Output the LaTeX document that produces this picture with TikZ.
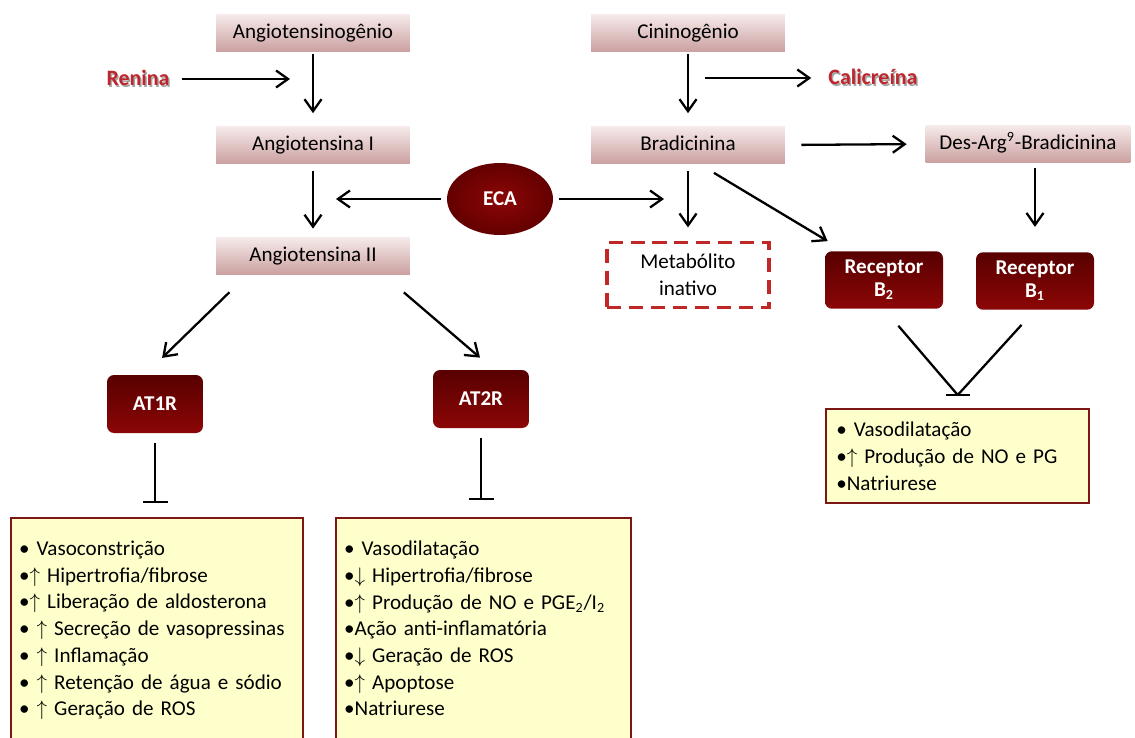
\documentclass[tikz,border=0pt]{standalone}
\usepackage{fontspec}
\setmainfont{Carlito}
\usetikzlibrary{arrows.meta,shapes.geometric,calc}
\definecolor{pinktop}{RGB}{246,234,234}
\definecolor{pinkbot}{RGB}{203,160,160}
\definecolor{redtop}{RGB}{88,0,0}
\definecolor{redbot}{RGB}{140,6,6}
\definecolor{ecain}{RGB}{140,6,6}
\definecolor{ecaout}{RGB}{100,0,0}
\definecolor{effyellow}{RGB}{255,255,204}
\definecolor{effborder}{RGB}{125,22,22}
\definecolor{enzred}{RGB}{190,38,45}
\definecolor{dashred}{RGB}{192,40,40}
\newcommand{\sombra}[1]{\makebox[0pt][l]{\hspace{0.8pt}\raisebox{-0.8pt}{\textcolor{black!35}{#1}}}#1}
\newcommand{\sobe}{$\uparrow$}
\newcommand{\desce}{$\downarrow$}

\begin{document}
\begin{tikzpicture}
		[x=0.02cm, y=-0.02cm, auto,
		font=\fontsize{12}{15.2}\selectfont,
		pinkbox/.style ={rectangle, top color=pinktop, bottom color=pinkbot, minimum width=3.88cm, minimum height=0.74cm, inner sep=0pt, text height=8.5pt, text depth=2.5pt},
		redbox/.style ={rectangle, rounded corners=1.4mm, top color=redtop, bottom color=redbot, text=white, font=\fontsize{12}{13}\selectfont\bfseries, align=center, minimum width=1.92cm, minimum height=1.16cm},
		enzyme/.style ={text=enzred, font=\fontsize{12.5}{15}\selectfont\bfseries},
		ecanode/.style ={ellipse, inner color=ecain, outer color=ecaout, text=white, font=\fontsize{12}{15}\selectfont\bfseries, minimum width=2.12cm, minimum height=1.44cm},
		effbox/.style ={rectangle, draw=effborder, line width=1.4pt, fill=effyellow, anchor=north west, align=left, inner xsep=4.5pt, inner ysep=13pt},
		dashbox/.style ={rectangle, draw=dashred, line width=1.8pt, dash pattern=on 8pt off 4.5pt, align=center, minimum width=3.24cm, minimum height=1.3cm},
		seta/.style ={line width=1.3pt, -{Straight Barb[length=2.4mm,width=3.4mm]}},
		bloqueio/.style ={line width=1.3pt, -{Bar[width=5mm]}},
		tlinha/.style ={line width=1.3pt}]
		\useasboundingbox (0,0) rectangle (1135,737);
		\clip (0,0) rectangle (1135,737);

		\draw (313,33) node[pinkbox] (ago) {Angiotensinogênio};
		\draw (313,145) node[pinkbox] (ang1) {Angiotensina I};
		\draw (313,256) node[pinkbox] (ang2) {Angiotensina II};
		\draw (688,33) node[pinkbox] (cin) {Cininogênio};
		\draw (688,145) node[pinkbox] (brad) {Bradicinina};
		\draw (1028,144) node[pinkbox, minimum width=4.1cm] (desarg) {Des-Arg\textsuperscript{9}-Bradicinina};
		\draw (138,79) node[enzyme] (renina) {\sombra{Renina}};
		\draw (873,78) node[enzyme] (cal) {\sombra{Calicreína}};
		\draw (500,199) node[ecanode] (eca) {ECA};
		\draw (688,275) node[dashbox] (met) {Metabólito\\inativo};
		\draw (884,280) node[redbox, minimum width=2.36cm, minimum height=1.15cm] (b2) {Receptor\\B\textsubscript{2}};
		\draw (1035,281) node[redbox, minimum width=2.36cm, minimum height=1.15cm] (b1) {Receptor\\B\textsubscript{1}};
		\draw (155,404) node[redbox] (at1) {AT1R};
		\draw (481,399) node[redbox] (at2) {AT2R};
		\draw (10,517) node[effbox, text width=5.52cm] (eff1) {%
			• Vasoconstrição\\
			•\sobe{} Hipertrofia/fibrose\\
			•\sobe{} Liberação de aldosterona\\
			• \sobe{} Secreção de vasopressinas\\
			• \sobe{} Inflamação\\
			• \sobe{} Retenção de água e sódio\\
			• \sobe{} Geração de ROS};
		\draw (335,517) node[effbox, text width=5.58cm] (eff2) {%
			• Vasodilatação\\
			•\desce{} Hipertrofia/fibrose\\
			•\sobe{} Produção de NO e PGE\textsubscript{2}/I\textsubscript{2}\\
			•Ação anti-inflamatória\\
			•\desce{} Geração de ROS\\
			•\sobe{} Apoptose\\
			•Natriurese};
		\draw (825,408) node[effbox, text width=4.86cm, inner xsep=5.7pt, inner ysep=6pt, minimum height=1.88cm] (effB) {%
			• Vasodilatação\\
			•\sobe{} Produção de NO e PG\\
			•Natriurese};

		\coordinate (renTip) at (290,79);
		\coordinate (calTail) at (705,78);
		\coordinate (ecaL) at (336,199);
		\coordinate (ecaR) at (664,199);
		\coordinate (juncao) at ($(effB.north)+(0,-13)$);

		\path[seta]
		(ago) edge[shorten <=0.4mm, shorten >=2.6mm] (ang1)
		(ang1) edge[shorten <=1.5mm, shorten >=1.7mm] (ang2)
		(cin) edge[shorten <=0.4mm, shorten >=2.6mm] (brad)
		(brad) edge[shorten <=1.5mm, shorten >=2.7mm] (met)
		(brad.east) edge[shorten <=3.2mm, shorten >=3.7mm] (desarg.west)
		(brad.-60) edge[shorten <=3.5mm, shorten >=3.8mm] (b2.144)
		(b1 |- desarg.south) edge[shorten <=1.1mm, shorten >=5mm] (b1.north)
		(renina.east) edge[shorten <=1.2mm] (renTip)
		(calTail) edge[shorten >=2.2mm] (cal.west)
		(eca.west) edge[shorten <=1.2mm] (ecaL)
		(eca.east) edge[shorten <=1.2mm] (ecaR)
		(ang2.196) edge[shorten <=5mm, shorten >=4.8mm] (at1.109)
		(ang2.-15) edge[shorten <=5.4mm, shorten >=3.7mm] (at2.66);

		\path[bloqueio]
		(at1.south) edge[shorten <=2mm, shorten >=2.8mm] (at1 |- eff1.north)
		(at2.south) edge[shorten <=2mm, shorten >=3.4mm] (at2 |- eff2.north);

		\path[tlinha]
		(b2.south) edge[shorten <=4.4mm] (juncao)
		(b1.south) edge[shorten <=4mm] (juncao);
		\draw[tlinha] ([xshift=-0.24cm]juncao) -- ([xshift=0.24cm]juncao);

	\end{tikzpicture}
\end{document}
